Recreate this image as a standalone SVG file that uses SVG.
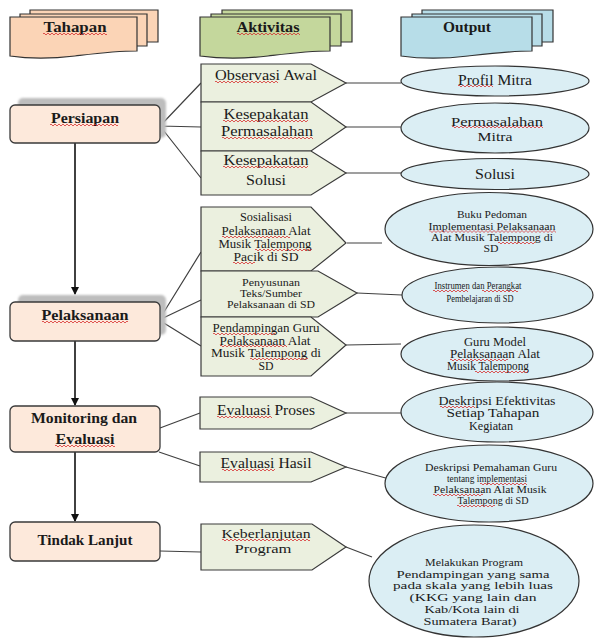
<svg xmlns="http://www.w3.org/2000/svg" xmlns:xlink="http://www.w3.org/1999/xlink" width="595" height="639" viewBox="0 0 595 639">
<style>
text{font-family:"Liberation Serif","Times New Roman",serif;fill:#1a1a1a;text-anchor:middle}
.b{font-weight:bold}
.hd{stroke:#333;stroke-width:1.2}
.ph{fill:#FDE9DB;stroke:#3a3a3a;stroke-width:1.3}
.sh{fill:#bdbdbd}
.pt{fill:#EBF0DF;stroke:#3a3a3a;stroke-width:1.2}
.el{fill:#DBEEF4;stroke:#333;stroke-width:1.2}
.cn{stroke:#404040;stroke-width:1.2;fill:none}
.ar{stroke:#111;stroke-width:1.6;fill:none}
.sq{stroke:#d83030;stroke-width:0.8;fill:none}
</style>
<defs>
<marker id="ah" markerWidth="8" markerHeight="8" refX="7" refY="4" orient="auto" markerUnits="userSpaceOnUse"><path d="M0,0 L8,4 L0,8 Z" fill="#111"/></marker>
<filter id="bl" x="-10%" y="-20%" width="120%" height="140%"><feGaussianBlur stdDeviation="1.2"/></filter>
<path id="wv" class="sq" d="M0,2 q1,-2 2,0 t2,0 t2,0 t2,0 t2,0 t2,0 t2,0 t2,0 t2,0 t2,0 t2,0 t2,0 t2,0 t2,0 t2,0 t2,0 t2,0 t2,0 t2,0 t2,0 t2,0 t2,0 t2,0 t2,0 t2,0 t2,0 t2,0 t2,0 t2,0 t2,0 t2,0 t2,0 t2,0 t2,0 t2,0 t2,0 t2,0 t2,0 t2,0 t2,0 t2,0 t2,0 t2,0 t2,0 t2,0 t2,0 t2,0 t2,0 t2,0 t2,0 t2,0 t2,0 t2,0 t2,0 t2,0 t2,0 t2,0 t2,0 t2,0 t2,0 t2,0 t2,0 t2,0 t2,0 t2,0 t2,0"/>
</defs>

<!-- Headers -->
<g id="hdr-tahapan">
<path class="hd" fill="#FBD4B6" d="M30,10 H158 V42 H30 Z"/>
<path class="hd" fill="#FBD4B6" d="M20,14 H147 V46 H20 Z"/>
<path class="hd" fill="#FBD4B6" d="M10,17 H137 V51 C115,51 100,53 75,56 C50,59 30,59 10,56 Z"/>
<text class="b" x="75" y="32" font-size="14" textLength="63" lengthAdjust="spacingAndGlyphs">Tahapan</text>
</g>
<g id="hdr-aktivitas">
<path class="hd" fill="#C4D79C" d="M222,10 H352 V42 H222 Z"/>
<path class="hd" fill="#C4D79C" d="M211,14 H341 V46 H211 Z"/>
<path class="hd" fill="#C4D79C" d="M200,17 H330 V51 C308,51 293,53 268,56 C243,59 222,59 200,56 Z"/>
<text class="b" x="268" y="32" font-size="14" textLength="63" lengthAdjust="spacingAndGlyphs">Aktivitas</text>
</g>
<g id="hdr-output">
<path class="hd" fill="#B7DDE8" d="M422,10 H553 V42 H422 Z"/>
<path class="hd" fill="#B7DDE8" d="M412,14 H542 V46 H412 Z"/>
<path class="hd" fill="#B7DDE8" d="M401,17 H532 V51 C510,51 494,53 468,56 C443,59 422,59 401,56 Z"/>
<text class="b" x="467" y="32" font-size="14" textLength="48" lengthAdjust="spacingAndGlyphs">Output</text>
</g>

<!-- Connectors -->
<g id="connectors">
<path class="ar" d="M75,143 V294" marker-end="url(#ah)"/>
<path class="ar" d="M75,341 V405" marker-end="url(#ah)"/>
<path class="ar" d="M75,452 V521" marker-end="url(#ah)"/>
<path class="cn" d="M160,126 L201,83 M160,126 L201,127 M160,126 L201,178"/>
<path class="cn" d="M159,320 L201,252 M159,320 L201,300 M159,320 L201,346"/>
<path class="cn" d="M160,428 L200,413 M159,452 L200,466"/>
<path class="cn" d="M160,551 L201,552"/>
<path class="cn" d="M346,83 H401 M346,127 H401 M346,173 H401"/>
<path class="cn" d="M347,243 H382 M357,293 L402,295 M346,345 L401,344"/>
<path class="cn" d="M346,413 H401 M346,467 L400,482 M346,547 L372,557"/>
</g>

<!-- Phase boxes -->
<g id="persiapan">
<rect class="sh" filter="url(#bl)" x="18" y="98" width="148" height="40" rx="5"/>
<rect class="ph" x="10" y="105" width="150" height="38" rx="5"/>
<text class="b" x="85" y="123" font-size="15" textLength="68" lengthAdjust="spacingAndGlyphs">Persiapan</text>
</g>
<g id="pelaksanaan">
<rect class="sh" filter="url(#bl)" x="18" y="295" width="148" height="40" rx="5"/>
<rect class="ph" x="10" y="302" width="150" height="39" rx="5"/>
<text class="b" x="85" y="320" font-size="15" textLength="87" lengthAdjust="spacingAndGlyphs">Pelaksanaan</text>
</g>
<g id="monitoring">
<rect class="ph" x="10" y="406" width="150" height="46" rx="5"/>
<text class="b" x="84" y="423" font-size="15" textLength="106" lengthAdjust="spacingAndGlyphs">Monitoring dan</text>
<text class="b" x="85" y="444" font-size="15" textLength="59" lengthAdjust="spacingAndGlyphs">Evaluasi</text>
</g>
<g id="tindak-lanjut">
<rect class="ph" x="10" y="522" width="150" height="39" rx="5"/>
<text class="b" x="85" y="545" font-size="15" textLength="95" lengthAdjust="spacingAndGlyphs">Tindak Lanjut</text>
</g>

<!-- Activities -->
<g id="act-observasi">
<polygon class="pt" points="201,64 311,64 346,83 311,102 201,102"/>
<text x="266" y="80" font-size="15" textLength="102" lengthAdjust="spacingAndGlyphs">Observasi Awal</text>
</g>
<g id="act-kesepakatan-permasalahan">
<polygon class="pt" points="201,102 311,102 346,127 311,151 201,151"/>
<text x="266" y="119" font-size="14.5" textLength="85" lengthAdjust="spacingAndGlyphs">Kesepakatan</text>
<text x="267" y="136" font-size="14.5" textLength="92" lengthAdjust="spacingAndGlyphs">Permasalahan</text>
</g>
<g id="act-kesepakatan-solusi">
<polygon class="pt" points="201,151 311,151 346,173 311,195 201,195"/>
<text x="266" y="165" font-size="14.5" textLength="85" lengthAdjust="spacingAndGlyphs">Kesepakatan</text>
<text x="266" y="185" font-size="14.5" textLength="40" lengthAdjust="spacingAndGlyphs">Solusi</text>
</g>
<g id="act-sosialisasi">
<polygon class="pt" points="201,207 311,207 346,243 311,271 201,271"/>
<text x="266" y="221" font-size="11.5" textLength="52" lengthAdjust="spacingAndGlyphs">Sosialisasi</text>
<text x="266" y="235" font-size="11.5" textLength="89" lengthAdjust="spacingAndGlyphs">Pelaksanaan Alat</text>
<text x="265" y="248" font-size="11.5" textLength="93" lengthAdjust="spacingAndGlyphs">Musik Talempong</text>
<text x="266" y="261" font-size="11.5" textLength="65" lengthAdjust="spacingAndGlyphs">Pacik di SD</text>
</g>
<g id="act-penyusunan">
<polygon class="pt" points="201,271 318,271 357,293 318,317 201,317"/>
<text x="271" y="286" font-size="10.5" textLength="58" lengthAdjust="spacingAndGlyphs">Penyusunan</text>
<text x="271" y="297" font-size="10.5" textLength="62" lengthAdjust="spacingAndGlyphs">Teks/Sumber</text>
<text x="271" y="308" font-size="10.5" textLength="88" lengthAdjust="spacingAndGlyphs">Pelaksanaan di SD</text>
</g>
<g id="act-pendampingan">
<polygon class="pt" points="201,317 311,317 346,345 311,376 201,376"/>
<text x="266" y="332" font-size="11.5" textLength="107" lengthAdjust="spacingAndGlyphs">Pendampingan Guru</text>
<text x="265" y="344.5" font-size="11.5" textLength="91" lengthAdjust="spacingAndGlyphs">Pelaksanaan Alat</text>
<text x="266" y="357" font-size="11.5" textLength="110" lengthAdjust="spacingAndGlyphs">Musik Talempong di</text>
<text x="266" y="370" font-size="11.5" textLength="15" lengthAdjust="spacingAndGlyphs">SD</text>
</g>
<g id="act-evaluasi-proses">
<polygon class="pt" points="200,397 311,397 346,413 311,429 200,429"/>
<text x="266" y="415" font-size="15" textLength="98" lengthAdjust="spacingAndGlyphs">Evaluasi Proses</text>
</g>
<g id="act-evaluasi-hasil">
<polygon class="pt" points="200,452 311,452 346,467 311,482 200,482"/>
<text x="266" y="468" font-size="15" textLength="91" lengthAdjust="spacingAndGlyphs">Evaluasi Hasil</text>
</g>
<g id="act-keberlanjutan">
<polygon class="pt" points="201,524 312,524 346,547 312,570 201,570"/>
<text x="266" y="538" font-size="12.5" textLength="89" lengthAdjust="spacingAndGlyphs">Keberlanjutan</text>
<text x="263" y="553" font-size="12.5" textLength="57" lengthAdjust="spacingAndGlyphs">Program</text>
</g>

<!-- Outputs -->
<g id="out-profil">
<ellipse class="el" cx="495" cy="81" rx="94" ry="15"/>
<text x="495" y="85" font-size="15" textLength="74" lengthAdjust="spacingAndGlyphs">Profil Mitra</text>
</g>
<g id="out-permasalahan">
<ellipse class="el" cx="495" cy="128" rx="94" ry="25"/>
<text x="497" y="126" font-size="13.5" textLength="92" lengthAdjust="spacingAndGlyphs">Permasalahan</text>
<text x="495" y="141" font-size="13.5" textLength="35" lengthAdjust="spacingAndGlyphs">Mitra</text>
</g>
<g id="out-solusi">
<ellipse class="el" cx="495" cy="174" rx="94" ry="15.5"/>
<text x="495" y="179" font-size="15" textLength="40" lengthAdjust="spacingAndGlyphs">Solusi</text>
</g>
<g id="out-buku">
<ellipse class="el" cx="489" cy="229" rx="104" ry="36.5"/>
<text x="492" y="218" font-size="10.5" textLength="70" lengthAdjust="spacingAndGlyphs">Buku Pedoman</text>
<text x="492" y="229.5" font-size="10.5" textLength="127" lengthAdjust="spacingAndGlyphs">Implementasi Pelaksanaan</text>
<text x="492" y="241" font-size="10.5" textLength="122" lengthAdjust="spacingAndGlyphs">Alat Musik Talempong di</text>
<text x="491" y="252" font-size="10.5" textLength="15" lengthAdjust="spacingAndGlyphs">SD</text>
</g>
<g id="out-instrumen">
<ellipse class="el" cx="497.5" cy="295" rx="95.5" ry="28"/>
<text x="478" y="289" font-size="11" textLength="87" lengthAdjust="spacingAndGlyphs">Instrumen dan Perangkat</text>
<text x="480" y="302" font-size="11" textLength="67" lengthAdjust="spacingAndGlyphs">Pembelajaran di SD</text>
</g>
<g id="out-guru-model">
<ellipse class="el" cx="497" cy="354" rx="96" ry="27"/>
<text x="495" y="346" font-size="11.5" textLength="62" lengthAdjust="spacingAndGlyphs">Guru Model</text>
<text x="495" y="358" font-size="11.5" textLength="90" lengthAdjust="spacingAndGlyphs">Pelaksanaan Alat</text>
<text x="488" y="370" font-size="11.5" textLength="82" lengthAdjust="spacingAndGlyphs">Musik Talempong</text>
</g>
<g id="out-deskripsi-efektivitas">
<ellipse class="el" cx="497" cy="412" rx="96" ry="30"/>
<text x="497" y="405" font-size="11.5" textLength="117" lengthAdjust="spacingAndGlyphs">Deskripsi Efektivitas</text>
<text x="493" y="417" font-size="11.5" textLength="93" lengthAdjust="spacingAndGlyphs">Setiap Tahapan</text>
<text x="491" y="430" font-size="11.5" textLength="44" lengthAdjust="spacingAndGlyphs">Kegiatan</text>
</g>
<g id="out-deskripsi-pemahaman">
<ellipse class="el" cx="489" cy="483.5" rx="104" ry="38.5"/>
<text x="491" y="471" font-size="10" textLength="132" lengthAdjust="spacingAndGlyphs">Deskripsi Pemahaman Guru</text>
<text x="487" y="482" font-size="10" textLength="80" lengthAdjust="spacingAndGlyphs">tentang implementasi</text>
<text x="490" y="493" font-size="10" textLength="113" lengthAdjust="spacingAndGlyphs">Pelaksanaan Alat Musik</text>
<text x="493" y="504" font-size="10" textLength="71" lengthAdjust="spacingAndGlyphs">Talempong di SD</text>
</g>
<g id="out-melakukan">
<ellipse class="el" cx="474" cy="581" rx="105" ry="56"/>
<text x="474" y="566" font-size="11" textLength="98" lengthAdjust="spacingAndGlyphs">Melakukan Program</text>
<text x="473" y="577.5" font-size="11" textLength="153" lengthAdjust="spacingAndGlyphs">Pendampingan yang sama</text>
<text x="473" y="589" font-size="11" textLength="160" lengthAdjust="spacingAndGlyphs">pada skala yang lebih luas</text>
<text x="473" y="601" font-size="11" textLength="127" lengthAdjust="spacingAndGlyphs">(KKG yang lain dan</text>
<text x="472" y="613" font-size="11" textLength="95" lengthAdjust="spacingAndGlyphs">Kab/Kota lain di</text>
<text x="470" y="625" font-size="11" textLength="93" lengthAdjust="spacingAndGlyphs">Sumatera Barat)</text>
</g>

<!-- Spell-check squiggles -->
<g id="squiggles">
<svg x="43" y="32" width="64" height="4"><use xlink:href="#wv"/></svg>
<svg x="237" y="32" width="63" height="4"><use xlink:href="#wv"/></svg>
<svg x="50" y="123" width="68" height="4"><use xlink:href="#wv"/></svg>
<svg x="42" y="320" width="86" height="4"><use xlink:href="#wv"/></svg>
<svg x="55" y="444" width="60" height="4"><use xlink:href="#wv"/></svg>
<svg x="215" y="80" width="63" height="4"><use xlink:href="#wv"/></svg>
<svg x="223" y="119" width="85" height="4"><use xlink:href="#wv"/></svg>
<svg x="222" y="136" width="91" height="4"><use xlink:href="#wv"/></svg>
<svg x="223" y="165" width="85" height="4"><use xlink:href="#wv"/></svg>
<svg x="458" y="84" width="35" height="4"><use xlink:href="#wv"/></svg>
<svg x="452" y="125" width="91" height="4"><use xlink:href="#wv"/></svg>
<svg x="222" y="235" width="68" height="4"><use xlink:href="#wv"/></svg>
<svg x="255" y="248" width="57" height="4"><use xlink:href="#wv"/></svg>
<svg x="233" y="261" width="22" height="4"><use xlink:href="#wv"/></svg>
<svg x="213" y="332" width="62" height="4"><use xlink:href="#wv"/></svg>
<svg x="220" y="344" width="67" height="4"><use xlink:href="#wv"/></svg>
<svg x="250" y="357" width="58" height="4"><use xlink:href="#wv"/></svg>
<svg x="429" y="229.5" width="127" height="4"><use xlink:href="#wv"/></svg>
<svg x="498" y="241" width="37" height="4"><use xlink:href="#wv"/></svg>
<svg x="433" y="289" width="35" height="4"><use xlink:href="#wv"/></svg>
<svg x="482" y="289" width="36" height="4"><use xlink:href="#wv"/></svg>
<svg x="450" y="358" width="58" height="4"><use xlink:href="#wv"/></svg>
<svg x="475" y="370" width="53" height="4"><use xlink:href="#wv"/></svg>
<svg x="217" y="415" width="55" height="4"><use xlink:href="#wv"/></svg>
<svg x="222" y="468" width="53" height="4"><use xlink:href="#wv"/></svg>
<svg x="440" y="405" width="35" height="4"><use xlink:href="#wv"/></svg>
<svg x="480" y="482" width="47" height="4"><use xlink:href="#wv"/></svg>
<svg x="433" y="493" width="50" height="4"><use xlink:href="#wv"/></svg>
<svg x="457" y="504" width="38" height="4"><use xlink:href="#wv"/></svg>
<svg x="222" y="538" width="88" height="4"><use xlink:href="#wv"/></svg>
</g>
</svg>
